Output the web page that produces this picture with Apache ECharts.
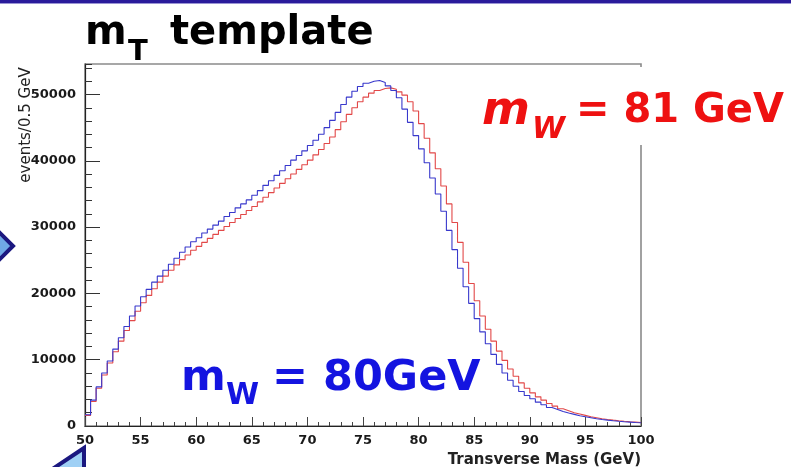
<!DOCTYPE html>
<html>
<head>
<meta charset="utf-8">
<script src="https://cdn.jsdelivr.net/npm/echarts@6/dist/echarts.min.js"></script>
<style>
  html, body { margin: 0; padding: 0; background: #ffffff; }
  #chart { width: 791px; height: 467px; }
</style>
</head>
<body>
<div id="chart"></div>
<script>
// Transverse-mass templates, 0.5 GeV bins from 50 to 100 GeV
const binLow = 50;
const binWidth = 0.5;

// events per bin, m_W = 80 GeV
const mw80 = [
  1700, 3900, 5900, 8000, 9800, 11600, 13300, 15000, 16600, 18100,
  19500, 20600, 21700, 22600, 23500, 24400, 25300, 26200, 27000, 27800,
  28400, 29100, 29700, 30300, 30900, 31600, 32200, 32900, 33500, 34100,
  34800, 35500, 36300, 37000, 37800, 38500, 39300, 40100, 40800, 41500,
  42300, 43100, 44000, 45000, 46100, 47300, 48500, 49600, 50500, 51200,
  51700, 52000, 52100, 51800, 51300, 50600, 49500, 47800, 45800, 43800,
  41800, 39700, 37400, 35000, 32400, 29500, 26600, 23800, 21000, 18500,
  16200, 14200, 12400, 10800, 9300, 8000, 6900, 6000, 5200, 4600,
  4100, 3600, 3200, 2800, 2500, 2200, 1950, 1750, 1550, 1400,
  1250, 1100, 990, 890, 800, 720, 650, 590, 530, 480
];

// events per bin, m_W = 81 GeV
const mw81 = [
  1600, 3700, 5700, 7700, 9500, 11200, 12800, 14400, 15900, 17300,
  18600, 19700, 20700, 21700, 22600, 23500, 24300, 25100, 25800, 26500,
  27100, 27700, 28300, 28900, 29500, 30100, 30700, 31300, 31900, 32500,
  33100, 33800, 34500, 35200, 35900, 36600, 37300, 38000, 38700, 39400,
  40100, 40900, 41700, 42600, 43600, 44700, 45900, 47000, 48000, 48900,
  49600, 50200, 50600, 50900, 51000, 50800, 50400, 49900, 48900, 47500,
  45600, 43400, 41200, 38800, 36200, 33500, 30700, 27700, 24700, 21500,
  18900, 16600, 14600, 12800, 11300, 9900, 8600, 7500, 6500, 5700,
  5000, 4400, 3900, 3400, 3000, 2600, 2300, 2000, 1800, 1600,
  1400, 1250, 1100, 980, 880, 790, 710, 640, 580, 520
];

const xMin = 50, xMax = 100, xStep = 5;
const yMax = 54600, yStep = 10000, yMinorStep = 2000;

const titleMain = 'template';
const titleSym = 'm';
const titleSub = 'T';
const yName = 'events/0.5 GeV';
const xName = 'Transverse Mass (GeV)';
const label81 = ['m', 'W', '= 81 GeV'];
const label80 = ['m', 'W', '= 80GeV'];

// turn bin contents into step points (low edge of each bin, plus the closing edge)
function histPoints(values) {
  const pts = values.map((v, i) => [binLow + i * binWidth, v]);
  pts.push([binLow + values.length * binWidth, values[values.length - 1]]);
  return pts;
}

const FONT = '"DejaVu Sans", "Liberation Sans", sans-serif';
const RED = '#ee1111';
const BLUE = '#1414e0';
const NAVY = '#1b1880';

const chart = echarts.init(document.getElementById('chart'), null, { renderer: 'canvas' });

chart.setOption({
  backgroundColor: '#ffffff',
  animation: false,
  grid: {
    left: 85, right: 150, top: 64, bottom: 41,
    containLabel: false,
    outerBoundsMode: 'none',
    show: true,
    borderColor: '#8a8a8a',
    borderWidth: 1.6,
    backgroundColor: 'transparent'
  },
  xAxis: {
    type: 'value',
    min: xMin, max: xMax, interval: xStep,
    axisLine: { show: true, onZero: false, lineStyle: { color: '#222', width: 1.2 } },
    axisTick: { show: true, inside: true, length: 9, lineStyle: { color: '#444', width: 1 } },
    minorTick: { show: true, splitNumber: 5, length: 4, lineStyle: { color: '#444', width: 1 } },
    splitLine: { show: false },
    axisLabel: { margin: 8, color: '#1a1a1a', fontFamily: FONT, fontWeight: 'bold', fontSize: 13 }
  },
  yAxis: [
    {
      type: 'value',
      position: 'left',
      min: 0, max: yMax, interval: yStep,
      axisLine: { show: true, onZero: false, lineStyle: { color: '#222', width: 1.2 } },
      axisTick: { show: true, inside: true, length: 15, lineStyle: { color: '#333', width: 1 } },
      splitLine: { show: false },
      axisLabel: {
        margin: 9, color: '#1a1a1a', fontFamily: FONT, fontWeight: 'bold', fontSize: 13,
        showMaxLabel: false,
        formatter: v => (v % yStep === 0 ? String(v) : '')
      }
    },
    {
      type: 'value',
      position: 'left',
      offset: 0,
      min: 0, max: yMax, interval: yMinorStep,
      axisLine: { show: false },
      axisTick: { show: true, inside: true, length: 7, lineStyle: { color: '#333', width: 1 } },
      splitLine: { show: false },
      axisLabel: { show: false }
    }
  ],
  series: [
    {
      name: 'mW = 80 GeV',
      type: 'line',
      step: 'end',
      yAxisIndex: 0,
      data: histPoints(mw80),
      showSymbol: false,
      symbol: 'none',
      lineStyle: { color: '#3838cc', width: 1.1 },
      z: 3
    },
    {
      name: 'mW = 81 GeV',
      type: 'line',
      step: 'end',
      yAxisIndex: 0,
      data: histPoints(mw81),
      showSymbol: false,
      symbol: 'none',
      lineStyle: { color: '#e24848', width: 1.1 },
      z: 2
    }
  ],
  graphic: [
    // banner strip across the top
    { type: 'rect', z: 100, shape: { x: 0, y: 0, width: 791, height: 3 }, style: { fill: '#2a1b9b' } },
    { type: 'rect', z: 100, shape: { x: 0, y: 3, width: 791, height: 1 }, style: { fill: '#9a94d4' } },

    // title
    { type: 'text', z: 100, style: { text: titleSym, x: 85, y: 34, font: 'bold 40px ' + FONT, fill: '#000', align: 'left', verticalAlign: 'middle' } },
    { type: 'text', z: 100, style: { text: titleSub, x: 128, y: 52, font: 'bold 29px ' + FONT, fill: '#000', align: 'left', verticalAlign: 'middle' } },
    { type: 'text', z: 100, style: { text: titleMain, x: 170, y: 34, font: 'bold 40px ' + FONT, fill: '#000', align: 'left', verticalAlign: 'middle' } },

    // axis names
    { type: 'text', z: 100, x: 26, y: 125, rotation: Math.PI / 2,
      style: { text: yName, x: 0, y: 0, font: '15px ' + FONT, fill: '#222', align: 'center', verticalAlign: 'middle' } },
    { type: 'text', z: 100, style: { text: xName, x: 641, y: 460, font: 'bold 15px ' + FONT, fill: '#222', align: 'right', verticalAlign: 'middle' } },

    // m_W = 81 GeV annotation on a white panel
    { type: 'rect', z: 90, shape: { x: 470, y: 67, width: 321, height: 78 }, style: { fill: '#ffffff' } },
    { type: 'text', z: 100, style: { text: label81[0], x: 482, y: 112, font: 'italic bold 46px ' + FONT, fill: RED, align: 'left', verticalAlign: 'middle' } },
    { type: 'text', z: 100, style: { text: label81[1], x: 532, y: 130, font: 'italic bold 30px ' + FONT, fill: RED, align: 'left', verticalAlign: 'middle' } },
    { type: 'text', z: 100, style: { text: label81[2], x: 576, y: 112, font: 'bold 40px ' + FONT, fill: RED, align: 'left', verticalAlign: 'middle' } },

    // m_W = 80 GeV annotation
    { type: 'text', z: 100, style: { text: label80[0], x: 181, y: 379, font: 'bold 43px ' + FONT, fill: BLUE, align: 'left', verticalAlign: 'middle' } },
    { type: 'text', z: 100, style: { text: label80[1], x: 226, y: 396, font: 'bold 30px ' + FONT, fill: BLUE, align: 'left', verticalAlign: 'middle' } },
    { type: 'text', z: 100, style: { text: label80[2], x: 272, y: 379, font: 'bold 43px ' + FONT, fill: BLUE, align: 'left', verticalAlign: 'middle' } },

    // pointer arrows at the left edge
    { type: 'polygon', z: 100, shape: { points: [[-4, 229], [13, 246], [-4, 263]] },
      style: { fill: '#6fa9e6', stroke: NAVY, lineWidth: 4 } },
    { type: 'polygon', z: 100, shape: { points: [[84, 448], [48, 472], [84, 472]] },
      style: { fill: '#9fd0f5', stroke: NAVY, lineWidth: 4 } }
  ]
});
</script>
</body>
</html>
